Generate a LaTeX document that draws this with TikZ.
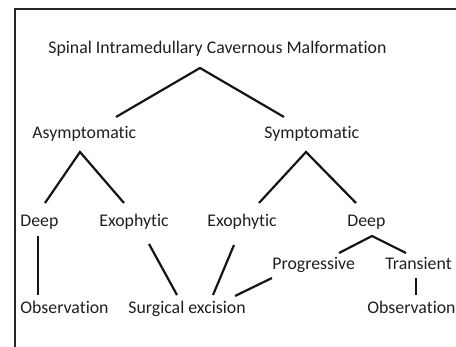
\documentclass[tikz,border=0pt]{standalone}
\usepackage{fontspec}
\setmainfont{Carlito}[Ligatures=NoCommon]
\begin{document}
\begin{tikzpicture}[x=0.5pt,y=-0.5pt,
  lbl/.style={anchor=base west,inner sep=0pt,font=\fontsize{8.9pt}{10pt}\selectfont,text=black!88},
  edge/.style={line width=1.1pt,black!92},
  frame/.style={line width=1.3pt,black!85}]
\useasboundingbox (0,0) rectangle (456,347);
\draw[frame] (15,347) -- (15,9) -- (456,9);
% texts
\node[lbl] (title) at (48,54) {Spinal Intramedullary Cavernous Malformation};
\node[lbl] (asym) at (32,139) {Asymptomatic};
\node[lbl] (sym) at (264,139) {Symptomatic};
\node[lbl] (deepL) at (20,227) {Deep};
\node[lbl] (exoL) at (99,227) {Exophytic};
\node[lbl] (exoR) at (207,227) {Exophytic};
\node[lbl] (deepR) at (347,227) {Deep};
\node[lbl] (prog) at (272,270) {Progressive};
\node[lbl] (trans) at (385,270) {Transient};
\node[lbl] (obsL) at (20,314) {Observation};
\node[lbl] (surg) at (128,314) {Surgical excision};
\node[lbl] (obsR) at (367,314) {Observation};
% connector points
\coordinate (t0) at (200,68);
\coordinate (t1) at (116,117);
\coordinate (t2) at (284,117);
\coordinate (a0) at (80,152);
\coordinate (a1) at (45,203);
\coordinate (a2) at (124,203);
\coordinate (s0) at (306,152);
\coordinate (s1) at (259,203);
\coordinate (s2) at (356,203);
\coordinate (d0) at (372,236);
\coordinate (d1) at (339,253);
\coordinate (d2) at (406,253);
\coordinate (dl1) at (38,236);
\coordinate (dl2) at (38,295);
\coordinate (el1) at (149,244);
\coordinate (el2) at (177,295);
\coordinate (er1) at (234,245);
\coordinate (er2) at (213,295);
\coordinate (p1) at (272,278);
\coordinate (p2) at (235,296);
\coordinate (tr1) at (416,278);
\coordinate (tr2) at (416,295);
% connectors
\draw[edge] (t1) -- (t0) -- (t2);
\draw[edge] (a1) -- (a0) -- (a2);
\draw[edge] (s1) -- (s0) -- (s2);
\draw[edge] (d1) -- (d0) -- (d2);
\draw[edge] (dl1) -- (dl2);
\draw[edge] (el1) -- (el2);
\draw[edge] (er1) -- (er2);
\draw[edge] (p1) -- (p2);
\draw[edge] (tr1) -- (tr2);
\end{tikzpicture}
\end{document}
